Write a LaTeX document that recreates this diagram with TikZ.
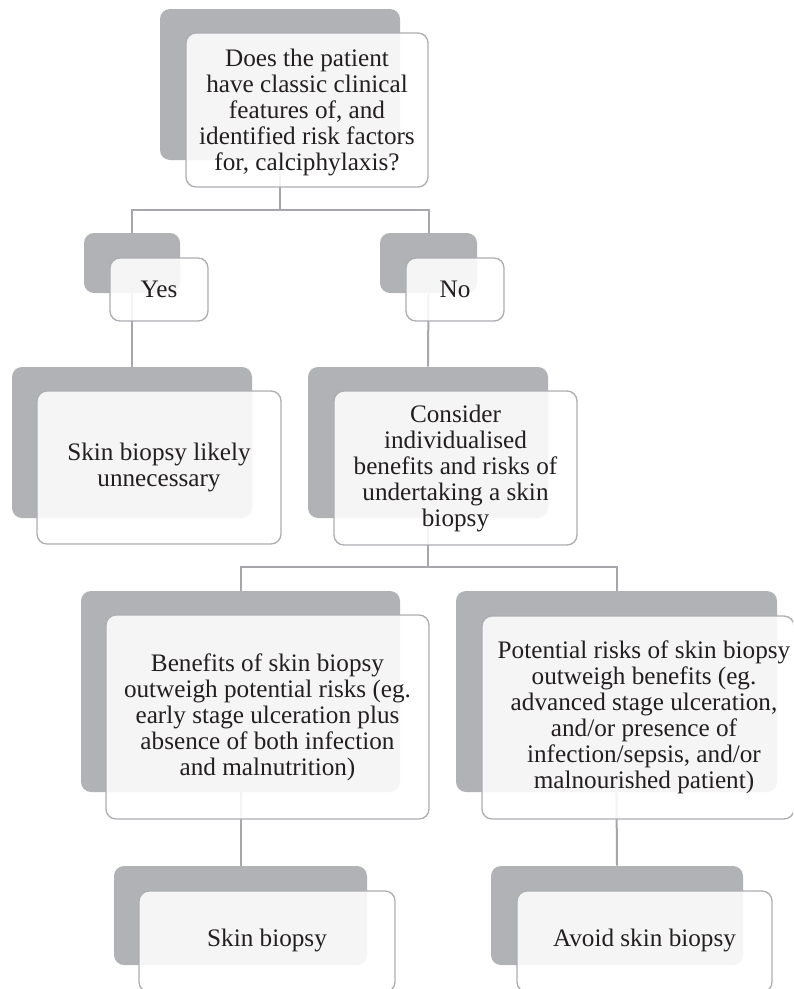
\documentclass[tikz,border=0pt]{standalone}
\usepackage{fontspec}
\setmainfont{Liberation Serif}
\usetikzlibrary{fit}
\definecolor{backgrey}{HTML}{B1B2B6}
\definecolor{linegrey}{HTML}{A6A7AB}
\definecolor{framegrey}{HTML}{ADAEB2}
\definecolor{txtcol}{HTML}{231F20}
\tikzset{
  backbox/.style={rounded corners=7.5pt, fill=backgrey, draw=none, inner sep=0pt},
  frontbox/.style={rounded corners=7.5pt, fill=white, fill opacity=0.88, draw=framegrey, draw opacity=1, line width=1pt, inner sep=0pt},
  conn/.style={draw=linegrey, line width=1.5pt},
  txt/.style={text=txtcol, align=center, inner sep=0pt, font=\fontsize{18.9pt}{19.5pt}\selectfont}
}
\begin{document}
\begin{tikzpicture}[x=0.75pt, y=-0.75pt]
\useasboundingbox (0,0) rectangle (793,989);
\clip (0,0) rectangle (793,989);
% back boxes
\node[backbox, fit={(160,9) (400,160)}] (qb) {};
\node[backbox, fit={(84,233) (180,293)}] (yb) {};
\node[backbox, fit={(380,233) (477,293)}] (nb) {};
\node[backbox, fit={(12,367) (252,518)}] (ub) {};
\node[backbox, fit={(308,367) (548,518)}] (cb) {};
\node[backbox, fit={(81,591) (400,792)}] (bb) {};
\node[backbox, fit={(456,591) (777,792)}] (rb) {};
\node[backbox, fit={(114,866) (367,965)}] (sb) {};
\node[backbox, fit={(491,866) (743,965)}] (ab) {};
% connectors
\coordinate (j1) at (280,210);
\coordinate (j2) at (428,567);
\draw[conn] (qb.south) -- (qb.south |- j1) -| (yb.north);
\draw[conn] (qb.south |- j1) -| (nb.north);
\draw[conn] (yb.south) -- (ub.north);
\draw[conn] (nb.south) -- (cb.north);
\draw[conn] (cb.south) -- (cb.south |- j2) -| (bb.north);
\draw[conn] (cb.south |- j2) -| (rb.north);
\draw[conn] (bb.south) -- (sb.north);
\draw[conn] (rb.south) -- (ab.north);
% front boxes
\node[frontbox, fit={(186,33) (428,187)}] (qf) {};
\node[frontbox, fit={(110,258) (208,321)}] (yf) {};
\node[frontbox, fit={(406,258) (504,321)}] (nf) {};
\node[frontbox, fit={(37,391) (281,544)}] (uf) {};
\node[frontbox, fit={(334,391) (577,545)}] (cf) {};
\node[frontbox, fit={(106,615) (429,819)}] (bf) {};
\node[frontbox, fit={(482,616) (794,819)}] (rf) {};
\node[frontbox, fit={(139,891) (395,992)}] (sf) {};
\node[frontbox, fit={(517,891) (772,992)}] (af) {};
% texts
\node[txt] (qt) at ([yshift=-1.5pt]qf.center) {Does the patient\\have classic clinical\\features of, and\\identified risk factors\\for, calciphylaxis?};
\node[txt] (yt) at (yf.center) {Yes};
\node[txt] (nt) at (nf.center) {No};
\node[txt] (ut) at (uf.center) {Skin biopsy likely\\unnecessary};
\node[txt] (ct) at (cf.center) {Consider\\individualised\\benefits and risks of\\undertaking a skin\\biopsy};
\node[txt] (bt) at (bf.center) {Benefits of skin biopsy\\outweigh potential risks (eg.\\early stage ulceration plus\\absence of both infection\\and malnutrition)};
\node[txt] (rt) at ([xshift=4.5pt]rf.center) {Potential risks of skin biopsy\\outweigh benefits (eg.\\advanced stage ulceration,\\and/or presence of\\infection/sepsis, and/or\\malnourished patient)};
\node[txt] (st) at ([yshift=0.75pt]sf.center) {Skin biopsy};
\node[txt] (at) at ([yshift=0.75pt]af.center) {Avoid skin biopsy};
\end{tikzpicture}
\end{document}
